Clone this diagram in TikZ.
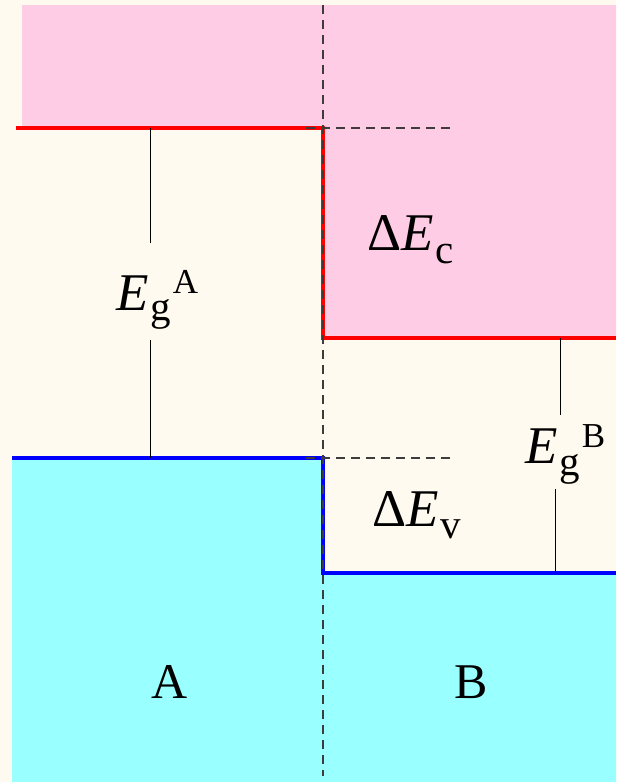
\documentclass[tikz,border=0pt]{standalone}
\usepackage{fontspec}
\setmainfont{Liberation Serif}
\definecolor{cream}{RGB}{255,250,240}
\definecolor{pinkband}{RGB}{255,204,230}
\definecolor{cyanband}{RGB}{153,255,255}
\definecolor{dashgray}{RGB}{60,60,60}
\newcommand{\bigfs}{\fontsize{53}{53}\selectfont}
\newcommand{\subfs}{\fontsize{41}{41}\selectfont}
\newcommand{\supfs}{\fontsize{35}{35}\selectfont}
\begin{document}
\begin{tikzpicture}[x=1pt,y=-1pt,
  edgeline/.style={line width=4pt, line join=miter},
  guide/.style={dashgray, line width=1.2pt, dash pattern=on 9pt off 6pt},
  gapline/.style={black, line width=0.9pt},
  lbl/.style={anchor=base west, inner sep=0pt, outer sep=0pt}]
\useasboundingbox (0,0) rectangle (616,782);
\fill[cream] (0,0) rectangle (616,782);
% conduction band regions
\fill[pinkband] (22,5) -- (616,5) -- (616,338) -- (323,338) -- (323,128) -- (22,128) -- cycle;
% valence band regions
\fill[cyanband] (12,458) -- (323,458) -- (323,573) -- (616,573) -- (616,782) -- (12,782) -- cycle;
% band edges
\draw[edgeline, red] (16,128) -- (323,128) -- (323,338) -- (616,338);
\draw[edgeline, blue] (12,458) -- (323,458) -- (323,573) -- (616,573);
% interface
\coordinate (ifTop) at (323,5);
\coordinate (ifBot) at (323,776);
\draw[guide] (ifTop) -- (ifBot);
% dashed extensions
\coordinate (cA) at (306,128);
\coordinate (cB) at (455,128);
\coordinate (vA) at (306,458);
\coordinate (vB) at (455,458);
\draw[guide] (cA) -- (cB);
\draw[guide] (vA) -- (vB);
% labels
\node[lbl] (EgA) at (116,310) {\bigfs\textit{E}\kern2pt\raisebox{-10pt}{\subfs g}\kern2pt\raisebox{17pt}{\supfs A}};
\node[lbl] (EgB) at (525,463) {\bigfs\textit{E}\kern2pt\raisebox{-12pt}{\subfs g}\kern2pt\raisebox{16pt}{\supfs B}};
\node[lbl] (dEc) at (367,250) {\bigfs Δ\textit{E}\kern2pt\raisebox{-13pt}{\subfs c}};
\node[lbl] (dEv) at (372,526) {\bigfs Δ\textit{E}\kern2pt\raisebox{-12pt}{\subfs v}};
\node[lbl] (labA) at (151,698) {\fontsize{50}{50}\selectfont A};
\node[lbl] (labB) at (454,698) {\fontsize{50}{50}\selectfont B};
% gap lines
\coordinate (gA1) at (150,128);
\coordinate (gA2) at (150,243);
\coordinate (gA3) at (150,340);
\coordinate (gA4) at (150,458);
\coordinate (gB1) at (560,338);
\coordinate (gB2) at (560,415);
\coordinate (gB3) at (555,489);
\coordinate (gB4) at (555,573);
\draw[gapline] (gA1) -- (gA2);
\draw[gapline] (gA3) -- (gA4);
\draw[gapline] (gB1) -- (gB2);
\draw[gapline] (gB3) -- (gB4);
\end{tikzpicture}
\end{document}
